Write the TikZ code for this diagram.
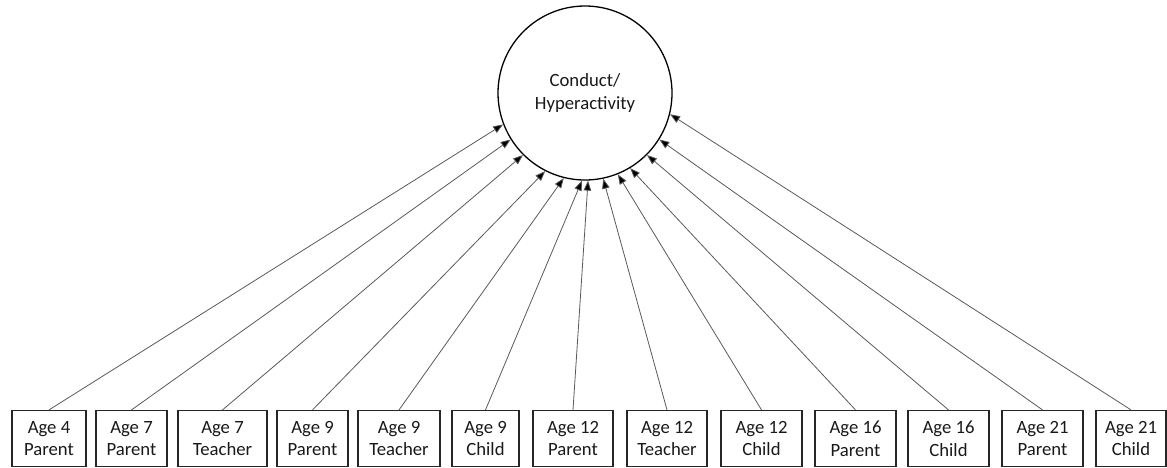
\documentclass[tikz,border=0pt]{standalone}
\usepackage{fontspec}
\setmainfont{Carlito}
\usetikzlibrary{arrows.meta}
\begin{document}
\begin{tikzpicture}[x=1pt,y=-1pt,
  every node/.style={font=\fontsize{18.7}{22.5}\selectfont},
  ind/.style={draw=black!85,line width=1.2pt,rectangle,minimum height=56pt,inner sep=0pt,align=center,text=black!90},
  lat/.style={draw=black,line width=1.3pt,circle,minimum size=174pt,inner sep=0pt,align=center,text=black!90},
  load/.style={draw=black!65,line width=0.8pt,-{Triangle[length=10pt,width=7.5pt,fill=black]}}]
\useasboundingbox (0,0) rectangle (1167,467);
\node[lat] (f) at (585,93) {Conduct/\\Hyperactivity};
\node[ind,minimum width=74pt] (b1) at (49,438.5) {Age 4\\Parent};
\node[ind,minimum width=71pt] (b2) at (131.5,438.5) {Age 7\\Parent};
\node[ind,minimum width=89pt] (b3) at (222.5,438.5) {Age 7\\Teacher};
\node[ind,minimum width=71pt] (b4) at (312.5,438.5) {Age 9\\Parent};
\node[ind,minimum width=82pt] (b5) at (399,438.5) {Age 9\\Teacher};
\node[ind,minimum width=67pt] (b6) at (485.5,438.5) {Age 9\\Child};
\node[ind,minimum width=80pt] (b7) at (573,438.5) {Age 12\\Parent};
\node[ind,minimum width=80pt] (b8) at (667,438.5) {Age 12\\Teacher};
\node[ind,minimum width=81pt] (b9) at (761.5,438.5) {Age 12\\Child};
\node[ind,minimum width=81pt] (b10) at (855.5,438.5) {Age 16\\Parent};
\node[ind,minimum width=81pt] (b11) at (948.5,438.5) {Age 16\\Child};
\node[ind,minimum width=81pt] (b12) at (1042.5,438.5) {Age 21\\Parent};
\node[ind,minimum width=70pt] (b13) at (1131,438.5) {Age 21\\Child};
\draw[load] (b1.north) -- (f.201);
\draw[load] (b2.north) -- (f.212);
\draw[load] (b3.north) -- (f.225);
\draw[load] (b4.north) -- (f.243);
\draw[load] (b5.north) -- (f.256);
\draw[load] (b6.north) -- (f.268);
\draw[load] (b7.north) -- (f.272);
\draw[load] (b8.north) -- (f.282);
\draw[load] (b9.north) -- (f.292);
\draw[load] (b10.north) -- (f.301);
\draw[load] (b11.north) -- (f.315);
\draw[load] (b12.north) -- (f.328);
\draw[load] (b13.north) -- (f.346);
\end{tikzpicture}
\end{document}
